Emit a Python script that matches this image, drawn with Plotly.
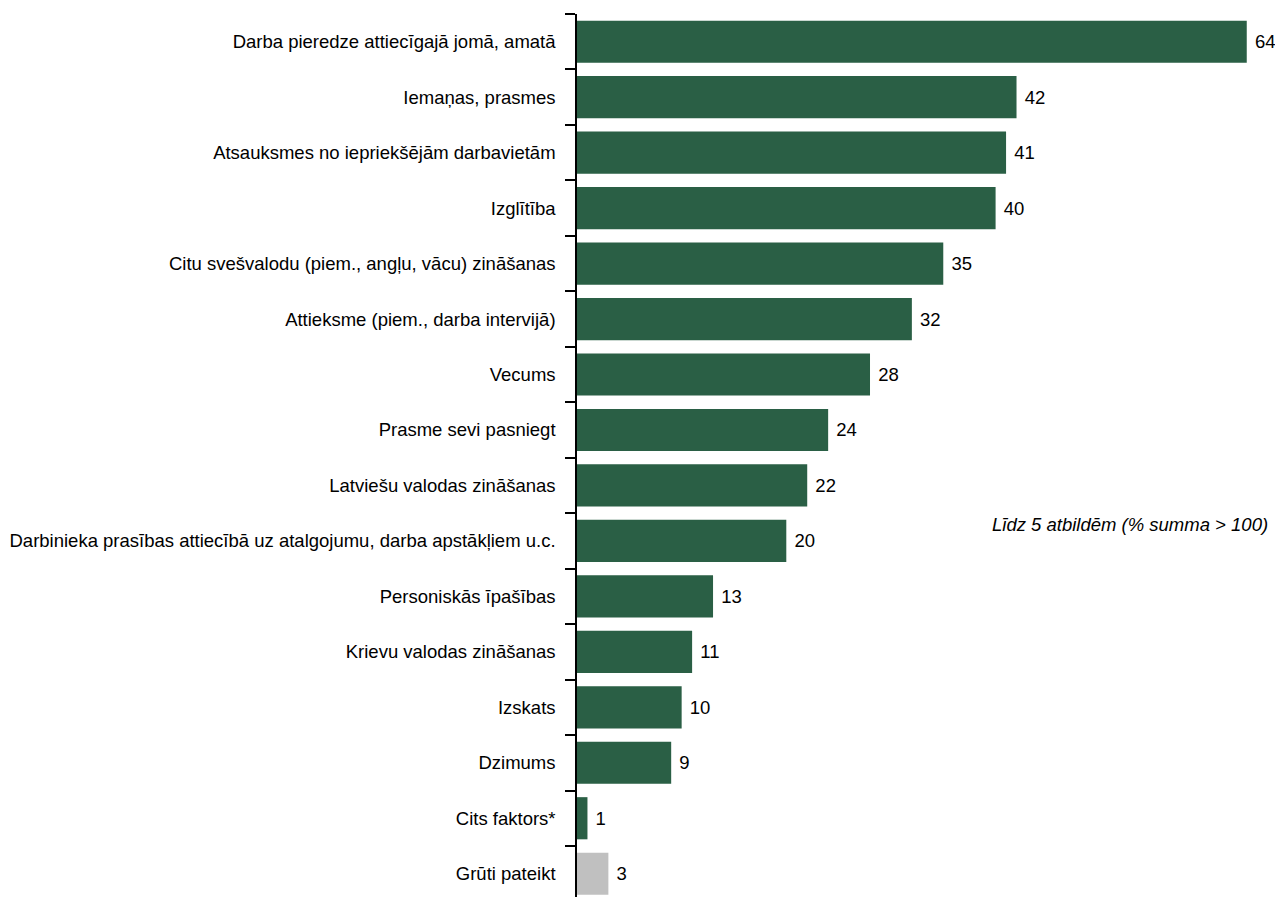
import plotly.graph_objects as go

categories = [
    "Darba pieredze attiecīgajā jomā, amatā",
    "Iemaņas, prasmes",
    "Atsauksmes no iepriekšējām darbavietām",
    "Izglītība",
    "Citu svešvalodu (piem., angļu, vācu) zināšanas",
    "Attieksme (piem., darba intervijā)",
    "Vecums",
    "Prasme sevi pasniegt",
    "Latviešu valodas zināšanas",
    "Darbinieka prasības attiecībā uz atalgojumu, darba apstākļiem u.c.",
    "Personiskās īpašības",
    "Krievu valodas zināšanas",
    "Izskats",
    "Dzimums",
    "Cits faktors*",
    "Grūti pateikt",
]
values = [64, 42, 41, 40, 35, 32, 28, 24, 22, 20, 13, 11, 10, 9, 1, 3]
note_text = "Līdz 5 atbildēm (% summa > 100)"

GREEN = "#2A5F45"
GRAY = "#C0C0C0"
colors = [GREEN] * (len(categories) - 1) + [GRAY]
FONT = "Liberation Sans, Arial, sans-serif"

fig = go.Figure(
    go.Bar(
        x=values,
        y=categories,
        orientation="h",
        marker=dict(color=colors, line=dict(width=0)),
        width=0.76,
        text=[f" {v}" for v in values],
        textposition="outside",
        textfont=dict(family=FONT, size=18.5, color="black"),
        cliponaxis=False,
        hoverinfo="skip",
    )
)

W, H = 1267, 889
L, T, R, B = 569, 6, 0, 0
pw, ph = W - L - R, H - T - B

fig.update_layout(
    width=W,
    height=H,
    margin=dict(l=L, r=R, t=T, b=B, pad=0),
    paper_bgcolor="white",
    plot_bgcolor="white",
    showlegend=False,
    font=dict(family=FONT, size=18.5, color="black"),
    xaxis=dict(
        range=[0, 66.7],
        visible=False,
        showgrid=False,
        zeroline=False,
    ),
    yaxis=dict(
        type="category",
        range=[15.42, -0.5],
        showline=True,
        linecolor="black",
        linewidth=1.5,
        ticks="outside",
        tickson="boundaries",
        ticklen=10,
        tickwidth=1.5,
        tickcolor="black",
        showgrid=False,
        zeroline=False,
        ticklabelstandoff=16,
        tickfont=dict(family=FONT, size=18.5, color="black"),
    ),
    annotations=[
        dict(
            text=note_text,
            xref="paper",
            yref="paper",
            x=(1262 - L) / pw,
            y=(H - 516) / ph,
            xanchor="right",
            yanchor="middle",
            showarrow=False,
            font=dict(family=FONT, size=18.5, color="black", style="italic"),
        )
    ],
)

fig.write_html("out.html")
